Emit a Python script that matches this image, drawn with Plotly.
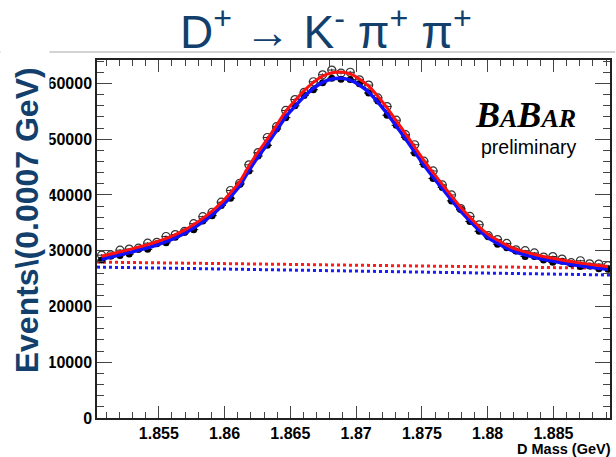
import plotly.graph_objects as go

# ---------------- data ----------------
mass = [1.85065, 1.85135, 1.85205, 1.85275, 1.85345, 1.85415, 1.85485, 1.85555,
        1.85625, 1.85695, 1.85765, 1.85835, 1.85905, 1.85975, 1.86045, 1.86115,
        1.86185, 1.86255, 1.86325, 1.86395, 1.86465, 1.86535, 1.86605, 1.86675,
        1.86745, 1.86815, 1.86885, 1.86955, 1.87025, 1.87095, 1.87165, 1.87235,
        1.87305, 1.87375, 1.87445, 1.87515, 1.87585, 1.87655, 1.87725, 1.87795,
        1.87865, 1.87935, 1.88005, 1.88075, 1.88145, 1.88215, 1.88285, 1.88355,
        1.88425, 1.88495, 1.88565, 1.88635, 1.88705, 1.88775, 1.88845, 1.88915]

fit_red = [29000, 29400, 29800, 30200, 30650, 31100, 31600, 32200, 32900, 33700,
           34700, 35800, 37100, 38600, 40400, 42400, 45200, 47700, 50000, 52500,
           55000, 56900, 58700, 60200, 61300, 61900, 62050, 61700, 60800, 59500,
           57700, 55600, 53300, 51000, 48600, 46200, 44000, 41900, 39800, 37800,
           36000, 34300, 32900, 31900, 31000, 30300, 29800, 29350, 28950, 28650,
           28350, 28050, 27800, 27550, 27350, 27150]

fit_blue = [28480, 28870, 29260, 29660, 30100, 30540, 31030, 31620, 32310, 33090,
            34080, 35160, 36430, 37910, 39670, 41640, 44390, 46840, 49100, 51560,
            54010, 55880, 57640, 59120, 60200, 60790, 60930, 60590, 59710, 58430,
            56660, 54600, 52340, 50080, 47730, 45370, 43210, 41150, 39080, 37120,
            35350, 33680, 32310, 31330, 30440, 29750, 29260, 28820, 28430, 28130,
            27840, 27540, 27300, 27050, 26860, 26660]

data_open = [29200, 29250, 30100, 30300, 30450, 31350, 31500, 32550, 32900, 33450,
             34850, 36100, 36900, 38700, 40800, 42100, 45400, 47600, 50300, 52250,
             55150, 57100, 58400, 60300, 61550, 62400, 61850, 62000, 60650, 59700,
             57400, 55850, 53400, 50800, 49000, 46050, 44300, 41800, 40000, 37550,
             36150, 34650, 32700, 32000, 31300, 30150, 30000, 29600, 28850, 28950,
             28500, 27850, 28200, 27650, 27600, 27300]

data_filled = [28330, 29070, 29160, 29410, 30250, 30240, 31230, 31420, 32410, 33340,
               33780, 35310, 36280, 38110, 39420, 41940, 44290, 46990, 48900, 51810,
               53860, 55980, 57840, 58870, 60100, 60940, 60730, 60690, 59960, 58280,
               56860, 54300, 52490, 50330, 47530, 45470, 42960, 41350, 38930, 37420,
               35250, 33480, 32560, 31180, 30540, 29950, 28960, 28970, 28330, 27930,
               28090, 27640, 27150, 27250, 26760, 26660]

bg_mass = [1.8503, 1.8893]
bg_red = [27960, 26850]
bg_blue = [27060, 25650]

x_tickvals = [1.855, 1.86, 1.865, 1.87, 1.875, 1.88, 1.885]
x_ticktext = ["1.855", "1.86", "1.865", "1.87", "1.875", "1.88", "1.885"]
y_tickvals = [0, 10000, 20000, 30000, 40000, 50000, 60000]
y_ticktext = ["0", "10000", "20000", "30000", "40000", "50000", "60000"]

err_open = [round(v ** 0.5) for v in data_open]
err_filled = [round(v ** 0.5) for v in data_filled]

TITLE_BLUE = "#123f6c"

fig = go.Figure()

fig.add_trace(go.Scatter(x=bg_mass, y=bg_red, mode="lines",
                         line=dict(color="#ff1a1a", width=3, dash="dot"), showlegend=False))
fig.add_trace(go.Scatter(x=bg_mass, y=bg_blue, mode="lines",
                         line=dict(color="#1a1aff", width=3, dash="dot"), showlegend=False))

fig.add_trace(go.Scatter(x=mass, y=data_open, mode="markers",
                         marker=dict(symbol="circle-open", size=8, color="#333333",
                                     line=dict(width=1.2, color="#333333")),
                         error_y=dict(type="data", array=err_open, color="#222222", thickness=1, width=0),
                         error_x=dict(type="constant", value=0.00035, color="#222222", thickness=1, width=0),
                         showlegend=False))
fig.add_trace(go.Scatter(x=mass, y=data_filled, mode="markers",
                         marker=dict(symbol="circle", size=7, color="black"),
                         error_y=dict(type="data", array=err_filled, color="black", thickness=1, width=0),
                         error_x=dict(type="constant", value=0.00035, color="black", thickness=1, width=0),
                         showlegend=False))

fig.add_trace(go.Scatter(x=mass, y=fit_blue, mode="lines", line_shape="spline",
                         line=dict(color="#1010ff", width=3.5), showlegend=False))
fig.add_trace(go.Scatter(x=mass, y=fit_red, mode="lines", line_shape="spline",
                         line=dict(color="#ff1010", width=3), showlegend=False))

tick_font = dict(family="Liberation Sans, Arial", size=16, color="black", weight="bold")

fig.update_xaxes(range=[1.8503, 1.8893], showline=True, linecolor="#222222", linewidth=1.5,
                 mirror="ticks", ticks="inside", ticklen=12, tickcolor="#444444", tickwidth=1,
                 tickvals=x_tickvals, ticktext=x_ticktext, tickfont=tick_font, ticklabelstandoff=0,
                 minor=dict(ticks="inside", ticklen=6, dtick=0.001, tick0=1.85, tickcolor="#444444"),
                 showgrid=False, zeroline=False)
fig.update_yaxes(range=[0, 64200], showline=True, linecolor="#222222", linewidth=1.5,
                 mirror="ticks", ticks="inside", ticklen=15, tickcolor="#444444", tickwidth=1,
                 tickvals=y_tickvals, ticktext=y_ticktext, tickfont=tick_font,
                 minor=dict(ticks="inside", ticklen=7, dtick=2000, tick0=0, tickcolor="#444444"),
                 showgrid=False, zeroline=False)

PW, PH = 515.0, 358.0

fig.update_layout(
    width=616, height=457,
    margin=dict(l=97, r=4, t=60, b=39),
    paper_bgcolor="white", plot_bgcolor="white",
    shapes=[dict(type="line", xref="paper", yref="paper", x0=-0.2, x1=1.01, y0=1.0 + 8 / PH, y1=1.0 + 8 / PH,
                 line=dict(color="#c4c4c4", width=1.5))],
    annotations=[
        dict(text="D<sup>+</sup> → K<sup>-</sup> π<sup>+</sup> π<sup>+</sup>", xref="paper", yref="paper",
             x=(327 - 97) / PW, y=1 + (60 - 29.5) / PH, showarrow=False, xanchor="center", yanchor="middle",
             font=dict(family="Liberation Sans, Arial", size=46, color=TITLE_BLUE)),
        # white cover box hiding the left part of the tick labels (as in the reference)
        dict(text=" ", xref="paper", yref="paper", x=(50 - 97) / PW, y=(418 - 225) / PH,
             xanchor="right", yanchor="middle", showarrow=False, bgcolor="white",
             width=48, height=380, borderpad=0, font=dict(size=10)),
        dict(text="<b>Events\\(0.0007 GeV)</b>", xref="paper", yref="paper", textangle=-90,
             x=(27 - 97) / PW, y=(418 - 220) / PH, xanchor="center", yanchor="middle", showarrow=False,
             font=dict(family="Liberation Sans, Arial", size=32, color=TITLE_BLUE)),
        dict(text="<b>D Mass (GeV)</b>", xref="paper", yref="paper",
             x=1.0, y=-(449 - 418) / PH, xanchor="right", yanchor="middle", showarrow=False, xshift=3,
             font=dict(family="Liberation Sans, Arial", size=14.5, color="black")),
        dict(text="<b><i>B<span style='font-size:26px'>A</span>B<span style='font-size:26px'>AR</span></i></b>",
             xref="paper", yref="paper", x=(527 - 97) / PW, y=(418 - 115) / PH,
             xanchor="center", yanchor="middle", showarrow=False,
             font=dict(family="Liberation Serif, Times New Roman", size=36, color="black")),
        dict(text="preliminary", xref="paper", yref="paper", x=(531 - 97) / PW, y=(418 - 147) / PH,
             xanchor="center", yanchor="middle", showarrow=False,
             font=dict(family="Liberation Sans, Arial", size=19.5, color="black")),
    ],
)

fig.write_html("out.html")
